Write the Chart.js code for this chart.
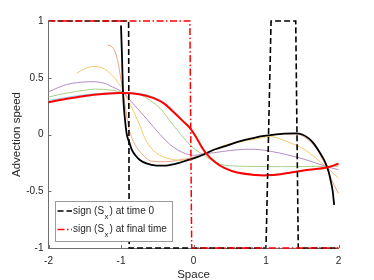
<!DOCTYPE html>
<html>
<head>
<meta charset="utf-8">
<script src="https://cdn.jsdelivr.net/npm/chart.js@4/dist/chart.umd.min.js"></script>
<style>
  html, body { margin: 0; padding: 0; background: #fff; }
  canvas { display: block; }
</style>
</head>
<body>
<canvas id="c" width="374" height="280" style="width:374px;height:280px"></canvas>
<script>
// sign (S_x) step profiles
const xSign0 = [-2, -0.895, -0.887, 1.0, 1.07, 1.41, 1.445, 2];
const ySign0 = [1, 1, -1, -1, 1, 1, -1, -1];
const xSignEnd = [-2, -0.05, -0.025, 2];
const ySignEnd = [1, 1, -1, -1];

// advection speed at time 0 (black)
const xSpeed0 = [-1.0, -0.985, -0.972, -0.96, -0.94, -0.92, -0.88, -0.85, -0.8, -0.74, -0.65, -0.51, -0.4, -0.32, -0.2, -0.09, 0.05, 0.16, 0.3, 0.45, 0.62, 0.8, 0.95, 1.08, 1.25, 1.4, 1.5, 1.59, 1.66, 1.72, 1.78, 1.82, 1.86, 1.89, 1.92, 1.94];
const ySpeed0 = [0.96, 0.66, 0.37, 0.24, 0.1, 0.0, -0.08, -0.136, -0.185, -0.224, -0.255, -0.274, -0.275, -0.268, -0.25, -0.228, -0.2, -0.17, -0.13, -0.1, -0.063, -0.035, -0.015, -0.004, 0.007, 0.01, 0.0, -0.034, -0.08, -0.136, -0.2, -0.25, -0.32, -0.4, -0.5, -0.62];

// intermediate times
const xOrange = [-1.185, -1.12, -1.07, -1.03, -1.0, -0.97, -0.93, -0.9, -0.83, -0.74, -0.65, -0.58, -0.4, -0.2, 0.0, 0.16, 0.62, 1.08, 1.4, 1.55, 1.7, 1.82, 1.92, 2.0];
const yOrange = [0.79, 0.77, 0.71, 0.6, 0.48, 0.37, 0.2, 0.08, -0.06, -0.15, -0.21, -0.235, -0.24, -0.225, -0.2, -0.165, -0.063, -0.004, 0.005, -0.03, -0.13, -0.27, -0.42, -0.52];
const xYellow = [-1.61, -1.5, -1.38, -1.25, -1.12, -1.0, -0.97, -0.9, -0.74, -0.65, -0.51, -0.32, -0.09, 0.16, 0.4, 0.62, 0.85, 1.08, 1.3, 1.54, 1.82, 2.0];
const yYellow = [0.54, 0.58, 0.6, 0.585, 0.52, 0.42, 0.38, 0.3, 0.08, -0.06, -0.165, -0.215, -0.225, -0.17, -0.1, -0.068, -0.04, -0.02, -0.065, -0.136, -0.28, -0.385];
const xPurple = [-2, -1.75, -1.45, -1.25, -1.12, -0.97, -0.9, -0.65, -0.46, -0.28, -0.05, 0.16, 0.4, 0.6, 0.85, 1.08, 1.3, 1.54, 1.82, 2.0];
const yPurple = [0.376, 0.44, 0.465, 0.455, 0.42, 0.37, 0.32, 0.14, 0.0, -0.11, -0.18, -0.17, -0.15, -0.135, -0.13, -0.15, -0.18, -0.22, -0.28, -0.31];
const xGreen = [-2, -1.75, -1.5, -1.35, -1.12, -0.97, -0.74, -0.6, -0.46, -0.28, -0.09, 0.0, 0.16, 0.3, 0.43, 0.7, 1.0, 1.4, 1.82, 2.0];
const yGreen = [0.33, 0.365, 0.39, 0.4, 0.39, 0.37, 0.35, 0.3, 0.23, 0.083, -0.063, -0.12, -0.19, -0.245, -0.27, -0.28, -0.283, -0.283, -0.28, -0.28];
const xBlue = [-2, -1.5, -1.0, -0.75, -0.55, -0.4, -0.28, -0.15, -0.04, 0.05, 0.16, 0.3, 0.43, 0.6, 0.85, 1.0, 1.2, 1.54, 1.84, 2.0];
const yBlue = [0.3, 0.35, 0.37, 0.362, 0.33, 0.28, 0.21, 0.13, 0.055, -0.035, -0.15, -0.24, -0.293, -0.332, -0.353, -0.357, -0.348, -0.314, -0.29, -0.26];

// advection speed at final time (red)
const xSpeedEnd = [-2, -1.75, -1.5, -1.25, -1.0, -0.75, -0.55, -0.4, -0.28, -0.15, -0.04, 0.05, 0.16, 0.3, 0.43, 0.6, 0.85, 1.0, 1.2, 1.54, 1.84, 2.0];
const ySpeedEnd = [0.285, 0.315, 0.34, 0.357, 0.366, 0.355, 0.32, 0.27, 0.2, 0.12, 0.05, -0.04, -0.155, -0.245, -0.297, -0.335, -0.356, -0.36, -0.35, -0.315, -0.29, -0.258];

const xTicks = [-2, -1, 0, 1, 2];
const yTicks = [-1, -0.5, 0, 0.5, 1];

const pts = (xs, ys) => xs.map((x, i) => ({x, y: ys[i]}));

// mode: 'step' (straight segments), 'mono' (monotone cubic), 'smooth' (bezier)
function curve(xs, ys, color, width, order, mode, dash) {
  return {
    data: pts(xs, ys),
    borderColor: color,
    borderWidth: width,
    borderDash: dash || [],
    pointRadius: 0,
    showLine: true,
    fill: false,
    cubicInterpolationMode: mode === 'mono' ? 'monotone' : 'default',
    tension: mode === 'smooth' ? 0.35 : 0,
    order: order,
    clip: 6
  };
}

const AXIS = '#6e6e6e';
const TEXT = '#262626';
const DASH = [6, 3];
const DASHDOT = [7, 2.5, 1.5, 2.5];

const tickMarks = {
  id: 'tickMarks',
  afterDraw(chart) {
    const {ctx, chartArea: a, scales: {x, y}} = chart;
    ctx.save();
    ctx.strokeStyle = AXIS;
    ctx.lineWidth = 1;
    ctx.beginPath();
    xTicks.forEach(v => {
      const px = Math.round(x.getPixelForValue(v)) + 0.5;
      ctx.moveTo(px, a.bottom); ctx.lineTo(px, a.bottom - 3);
    });
    yTicks.forEach(v => {
      const py = Math.round(y.getPixelForValue(v)) + 0.5;
      ctx.moveTo(a.left, py); ctx.lineTo(a.left + 3, py);
    });
    ctx.stroke();
    ctx.restore();
  }
};

const legendBox = {
  id: 'legendBox',
  afterDraw(chart) {
    const {ctx} = chart;
    const bx = 55.5, by = 201.5, bw = 117, bh = 40;
    ctx.save();
    ctx.fillStyle = '#fff';
    ctx.fillRect(bx, by, bw, bh);
    ctx.strokeStyle = '#9a9a9a';
    ctx.lineWidth = 1;
    ctx.strokeRect(bx, by, bw, bh);

    const rows = [
      {y: 211, color: '#000', dash: DASH, tail: ') at time 0'},
      {y: 229.5, color: '#ff0000', dash: DASHDOT, tail: ') at final time'}
    ];
    rows.forEach(r => {
      ctx.strokeStyle = r.color;
      ctx.lineWidth = 1.5;
      ctx.setLineDash(r.dash);
      ctx.beginPath();
      ctx.moveTo(57.5, r.y); ctx.lineTo(72, r.y);
      ctx.stroke();
      ctx.setLineDash([]);

      ctx.fillStyle = TEXT;
      ctx.textBaseline = 'middle';
      ctx.font = '10px "Liberation Sans", Arial, sans-serif';
      let tx = 73;
      ctx.fillText('sign (S', tx, r.y);
      tx += ctx.measureText('sign (S').width;
      ctx.font = '8px "Liberation Sans", Arial, sans-serif';
      ctx.fillText('x', tx + 0.5, r.y + 5.5);
      tx += ctx.measureText('x').width + 1.5;
      ctx.font = '10px "Liberation Sans", Arial, sans-serif';
      ctx.fillText(r.tail, tx, r.y);
    });
    ctx.restore();
  }
};

Chart.defaults.font.family = '"Liberation Sans", Arial, sans-serif';
Chart.defaults.color = TEXT;

new Chart(document.getElementById('c'), {
  type: 'scatter',
  data: {
    datasets: [
      curve(xSignEnd, ySignEnd, '#ff0000', 1.5, 0, 'step', DASHDOT),
      curve(xSign0, ySign0, '#000000', 1.6, 1, 'step', DASH),
      curve(xSpeedEnd, ySpeedEnd, '#ff0000', 2, 2, 'smooth'),
      curve(xBlue, yBlue, '#8fd3f2', 1, 3, 'smooth'),
      curve(xSpeed0, ySpeed0, '#000000', 1.8, 4, 'mono'),
      curve(xGreen, yGreen, '#a9cf86', 1, 5, 'smooth'),
      curve(xPurple, yPurple, '#b58bc4', 1, 6, 'smooth'),
      curve(xYellow, yYellow, '#f3cb6e', 1, 7, 'smooth'),
      curve(xOrange, yOrange, '#efa283', 1, 8, 'mono')
    ]
  },
  options: {
    responsive: false,
    animation: false,
    events: [],
    layout: { padding: { left: 0, top: 21, right: 35.5, bottom: 0 } },
    plugins: { legend: { display: false }, tooltip: { enabled: false } },
    scales: {
      x: {
        type: 'linear', min: -2, max: 2,
        afterFit: s => { s.height = 32; },
        afterBuildTicks: s => { s.ticks = xTicks.map(v => ({value: v})); },
        grid: { display: false, drawTicks: false },
        border: { display: true, color: AXIS, width: 1 },
        ticks: { padding: 7, font: { size: 10 }, color: TEXT, maxRotation: 0, callback: v => String(v) },
        title: { display: true, text: 'Space', font: { size: 11.5 }, color: TEXT, padding: { top: 0, bottom: -2 } }
      },
      y: {
        type: 'linear', min: -1, max: 1,
        afterFit: s => { s.width = 48.5; },
        afterBuildTicks: s => { s.ticks = yTicks.map(v => ({value: v})); },
        grid: { display: false, drawTicks: false },
        border: { display: true, color: AXIS, width: 1 },
        ticks: { padding: 5, font: { size: 10 }, color: TEXT, callback: v => String(v) },
        title: { display: true, text: 'Advection speed', font: { size: 11.5 }, color: TEXT, padding: { top: 10, bottom: 0 } }
      }
    }
  },
  plugins: [tickMarks, legendBox]
});
</script>
</body>
</html>
